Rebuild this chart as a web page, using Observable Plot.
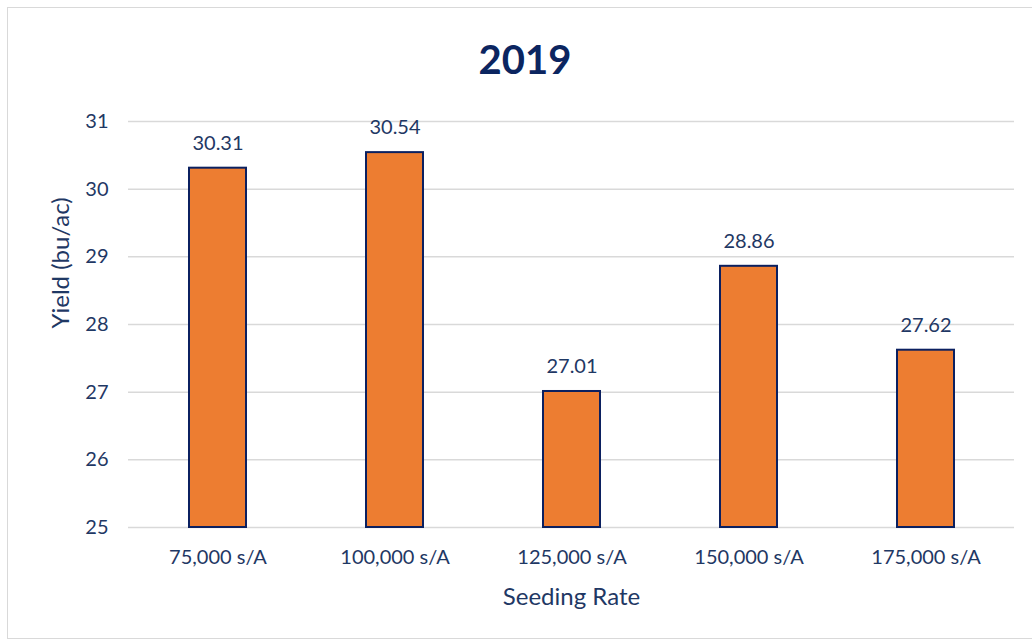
<!DOCTYPE html>
<html>
<head>
<meta charset="utf-8">
<script src="https://cdn.jsdelivr.net/npm/d3@7"></script>
<script src="https://cdn.jsdelivr.net/npm/@observablehq/plot@0.6"></script>
<style>
  body { margin: 0; background: #fff; }
  #wrap { position: relative; width: 1032px; height: 643px; overflow: hidden; }
  #frame { position: absolute; left: 7px; top: 7px; width: 1040px; height: 632px; border: 1px solid #d9d9d9; box-sizing: border-box; }
  #title { position: absolute; left: 0; width: 1050px; top: 35px; text-align: center; font-family: Lato, "Open Sans", sans-serif; font-weight: 700; font-size: 40px; color: #0b2560; }
  #chart { position: absolute; left: 0; top: 0; }
</style>
</head>
<body>
<div id="wrap">
  <div id="frame"></div>
  <div id="chart"></div>
  <div id="title">2019</div>
</div>
<script>
const categories = ["75,000 s/A", "100,000 s/A", "125,000 s/A", "150,000 s/A", "175,000 s/A"];
const yields = [30.31, 30.54, 27.01, 28.86, 27.62];
const yTicks = [25, 26, 27, 28, 29, 30, 31];
const xTitle = "Seeding Rate";
const yTitle = "Yield (bu/ac)";

const data = categories.map((c, i) => ({category: c, value: yields[i]}));
const textColor = "#1f3864";

const chart = Plot.plot({
  width: 1032,
  height: 643,
  marginLeft: 128,
  marginRight: 18,
  marginTop: 121,
  marginBottom: 116,
  style: {fontFamily: "Lato, 'Open Sans', sans-serif", fontSize: "20px", color: textColor, background: "transparent"},
  x: {domain: categories, paddingInner: 0.68, paddingOuter: 0.34},
  y: {domain: [25, 31], ticks: yTicks},
  marks: [
    Plot.ruleY(yTicks, {stroke: "#d9d9d9", strokeWidth: 1.5}),
    Plot.axisY({ticks: yTicks, tickFormat: d3.format("d"), tickSize: 0, tickPadding: 20, label: null, fontSize: 20, fill: textColor}),
    Plot.axisX({tickSize: 0, tickPadding: 22, label: null, fontSize: 20, fill: textColor}),
    Plot.barY(data, {x: "category", y1: () => 25, y2: "value", fill: "#ed7d31", stroke: "#0b2060", strokeWidth: 2}),
    Plot.text(data, {x: "category", y: "value", text: d => d.value.toFixed(2), dy: -25, fontSize: 20, fill: textColor}),
    Plot.text([xTitle], {frameAnchor: "bottom", text: d => d, dy: 77, fontSize: 24, fill: textColor}),
    Plot.text([yTitle], {frameAnchor: "left", text: d => d, dx: -67, dy: 4, rotate: -90, fontSize: 24, fill: textColor})
  ]
});
document.getElementById("chart").appendChild(chart);
</script>
</body>
</html>
